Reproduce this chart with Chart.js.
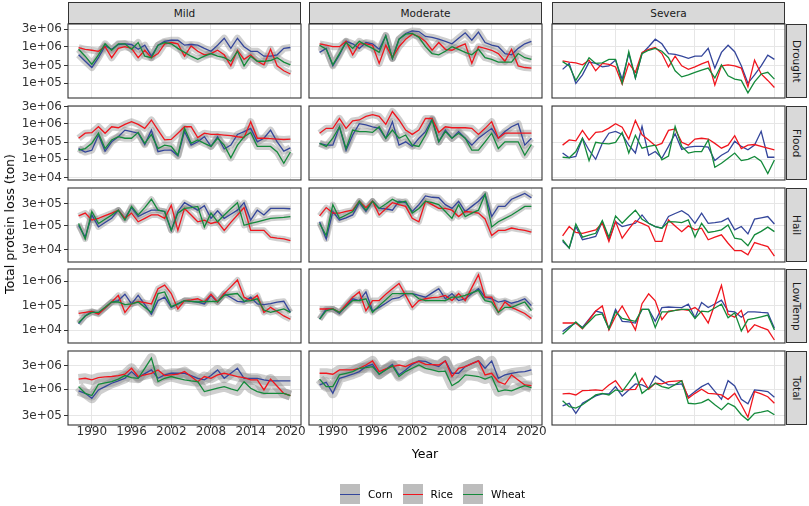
<!DOCTYPE html>
<html>
<head>
<meta charset="utf-8">
<script src="https://cdn.jsdelivr.net/npm/chart.js@4.4.1/dist/chart.umd.min.js"></script>
<style>
  body { margin: 0; width: 809px; height: 506px; position: relative; overflow: hidden; background: #fff; font-family: "DejaVu Sans", sans-serif; }
  canvas { position: absolute; }
  .strip { position: absolute; background: #d9d9d9; border: 1px solid #333; box-sizing: border-box; display: flex; align-items: center; justify-content: center; color: #1a1a1a; font-size: 10.5px; }
  .strip.side span { writing-mode: vertical-rl; }
  .lbl { position: absolute; color: #000; font-size: 12.5px; }
  .legend { position: absolute; top: 484px; left: 340px; display: flex; align-items: center; font-size: 10.5px; color: #000; }
  .key { width: 20px; height: 20px; background: #bdbdbd; position: relative; margin-right: 8px; }
  .key i { position: absolute; left: 0; right: 0; top: 9.5px; height: 1.4px; }
  .item { display: flex; align-items: center; margin-right: 10px; }
</style>
</head>
<body>
<script>
const years = [1988,1989,1990,1991,1992,1993,1994,1995,1996,1997,1998,1999,2000,2001,2002,2003,2004,
  2005,2006,2007,2008,2009,2010,2011,2012,2013,2014,2015,2016,2017,2018,2019,2020];
const yearTicks = [1990, 1996, 2002, 2008, 2014, 2020];
const crops = ['Corn', 'Rice', 'Wheat'];
const severities = ['Mild', 'Moderate', 'Severa'];
const hazards = ['Drought', 'Flood', 'Hail', 'LowTemp', 'Total'];

const droughtTicks = [1e5, 3e5, 1e6, 3e6];
const floodTicks = [3e4, 1e5, 3e5, 1e6, 3e6];
const hailTicks = [3e4, 1e5, 3e5];
const lowTempTicks = [1e4, 1e5, 1e6];
const totalTicks = [3e5, 1e6, 3e6];

// Drought
const droughtMildCorn = [6.0e5,4.0e5,2.7e5,5.0e5,1.05e6,8.5e5,1.15e6,1.2e6,1.15e6,8.5e5,1.1e6,5.5e5,1.1e6,1.4e6,1.5e6,1.5e6,1.1e6,1.15e6,1.1e6,9.0e5,7.5e5,1.1e6,1.7e6,9.0e5,1.7e6,1.0e6,7.5e5,7.5e5,5.5e5,5.5e5,6.0e5,9.0e5,9.5e5];
const droughtMildRice = [9.5e5,8.5e5,8.0e5,7.5e5,1.0e6,5.0e5,9.0e5,1.0e6,9.0e5,5.0e5,8.0e5,5.0e5,6.5e5,1.2e6,1.3e6,1.2e6,5.5e5,1.05e6,7.5e5,6.0e5,6.5e5,8.0e5,6.0e5,3.0e5,8.0e5,4.5e5,6.0e5,4.0e5,3.2e5,8.5e5,3.0e5,2.2e5,1.8e5];
const droughtMildWheat = [8.5e5,5.5e5,3.3e5,6.0e5,1.2e6,8.0e5,1.2e6,1.2e6,8.5e5,1.3e6,5.5e5,5.0e5,1.1e6,1.3e6,1.2e6,9.0e5,7.0e5,5.5e5,4.5e5,5.5e5,6.5e5,5.5e5,5.0e5,4.0e5,7.5e5,3.0e5,5.5e5,4.0e5,4.0e5,4.2e5,5.0e5,3.8e5,3.2e5];
const droughtModCorn = [7.0e5,9.0e5,3.0e5,6.0e5,1.4e6,1.2e6,9.0e5,1.3e6,1.2e6,8.5e5,2.0e6,4.8e5,1.6e6,2.3e6,2.7e6,2.6e6,1.9e6,1.8e6,1.6e6,1.4e6,1.2e6,1.7e6,2.4e6,1.5e6,2.5e6,1.3e6,1.1e6,1.0e6,6.5e5,6.0e5,9.0e5,1.2e6,1.4e6];
const droughtModRice = [1.2e6,1.1e6,1.0e6,1.0e6,1.4e6,6.0e5,1.2e6,1.2e6,1.1e6,3.5e5,1.1e6,5.0e5,1.0e6,1.6e6,2.2e6,1.9e6,1.4e6,8.0e5,1.3e6,8.5e5,8.0e5,1.0e6,1.2e6,3.5e5,1.0e6,9.0e5,8.0e5,6.5e5,4.0e5,8.5e5,3.0e5,2.7e5,2.6e5];
const droughtModWheat = [1.1e6,8.5e5,3.2e5,6.5e5,1.3e6,9.0e5,1.4e6,1.1e6,9.0e5,7.0e5,2.0e6,4.8e5,1.6e6,2.2e6,2.3e6,1.8e6,1.0e6,6.5e5,6.0e5,7.5e5,1.0e6,8.5e5,7.0e5,6.0e5,8.5e5,5.0e5,4.5e5,3.8e5,3.8e5,3.8e5,6.5e5,5.0e5,4.5e5];
const droughtSevCorn = [2.4e5,3.5e5,1.0e5,1.7e5,3.8e5,3.5e5,2.8e5,3.0e5,4.3e5,1.3e5,6.5e5,1.4e5,6.5e5,1.0e6,1.6e6,1.2e6,6.5e5,6.2e5,5.5e5,4.8e5,5.5e5,5.5e5,9.0e5,2.6e5,7.0e5,1.1e6,7.3e5,3.0e5,1.0e5,1.7e5,3.0e5,5.9e5,4.5e5];
const droughtSevRice = [4.1e5,3.8e5,3.6e5,3.2e5,4.3e5,2.2e5,3.5e5,3.3e5,2.8e5,9.5e4,3.5e5,2.0e5,7.0e5,8.5e5,9.5e5,6.5e5,2.8e5,5.5e5,3.0e5,2.4e5,2.8e5,3.4e5,4.0e5,9.0e4,3.0e5,3.2e5,3.0e5,2.6e5,8.0e4,4.3e5,1.8e5,1.2e5,7.7e4];
const droughtSevWheat = [3.9e5,3.0e5,1.2e5,2.4e5,5.0e5,3.5e5,3.6e5,4.5e5,4.5e5,1.0e5,7.3e5,1.4e5,6.5e5,8.0e5,9.0e5,7.5e5,5.0e5,2.2e5,1.5e5,1.7e5,2.0e5,2.3e5,2.6e5,1.4e5,3.2e5,1.6e5,1.3e5,1.2e5,5.5e4,1.1e5,1.8e5,2.0e5,1.3e5];

// Flood
const floodMildCorn = [2.0e5,1.6e5,1.8e5,4.8e5,1.7e5,3.1e5,4.3e5,6.6e5,6.0e5,5.4e5,2.6e5,6.6e5,1.64e5,1.8e5,1.8e5,1.25e5,6.0e5,2.5e5,3.1e5,4.3e5,2.3e5,4.3e5,1.95e5,2.5e5,5.0e5,6.0e5,7.4e5,3.1e5,3.9e5,6.6e5,3.1e5,1.7e5,2.1e5];
const floodMildRice = [3.9e5,5.4e5,5.6e5,8.2e5,5.4e5,8.2e5,7.7e5,9.6e5,1.14e6,9.6e5,7.4e5,1.27e6,6.6e5,3.5e5,3.6e5,5.4e5,8.2e5,8.2e5,4.1e5,5.4e5,5.0e5,5.0e5,4.8e5,4.6e5,4.3e5,4.1e5,1.14e6,3.9e5,3.9e5,3.8e5,3.7e5,3.6e5,3.7e5];
const floodMildWheat = [1.8e5,2.0e5,2.8e5,5.4e5,2.0e5,3.5e5,4.3e5,3.9e5,3.9e5,5.7e5,2.8e5,5.0e5,2.0e5,2.5e5,2.3e5,1.3e5,7.4e5,2.8e5,3.5e5,2.8e5,2.3e5,3.9e5,2.5e5,1.1e5,2.5e5,4.3e5,5.7e5,2.3e5,2.3e5,2.3e5,1.6e5,7.7e4,1.6e5];
const floodModCorn = [2.8e5,2.5e5,2.5e5,8.2e5,1.8e5,4.8e5,1.0e6,9.2e5,8.2e5,7.4e5,3.9e5,1.14e6,2.5e5,3.1e5,2.3e5,3.9e5,6.0e5,1.35e6,3.1e5,6.6e5,3.9e5,6.0e5,3.9e5,2.5e5,3.9e5,5.4e5,7.4e5,3.9e5,6.0e5,8.2e5,1.0e6,2.5e5,3.9e5];
const floodModRice = [5.4e5,7.4e5,7.4e5,1.4e6,7.4e5,1.2e6,1.27e6,1.6e6,1.8e6,1.6e6,9.6e5,2.2e6,1.27e6,6.6e5,5.0e5,6.6e5,1.4e6,1.4e6,5.7e5,8.2e5,7.7e5,7.7e5,7.7e5,7.4e5,5.0e5,7.4e5,1.14e6,3.9e5,5.4e5,5.4e5,5.4e5,5.4e5,5.4e5];
const floodModWheat = [2.8e5,2.3e5,3.9e5,8.2e5,2.0e5,6.6e5,6.0e5,6.0e5,5.7e5,8.2e5,3.9e5,6.6e5,3.9e5,4.8e5,2.5e5,2.3e5,4.8e5,1.27e6,3.1e5,6.0e5,3.9e5,5.4e5,3.9e5,1.8e5,1.8e5,3.1e5,5.4e5,2.0e5,3.1e5,3.1e5,3.1e5,1.3e5,2.6e5];
const floodSevCorn = [1.5e5,1.1e5,1.2e5,3.9e5,1.8e5,1.0e5,2.8e5,5.4e5,6.1e5,5.0e5,2.5e5,1.5e5,8.4e5,1.3e5,1.65e5,1.07e5,2.3e5,5.2e5,1.9e5,2.2e5,2.3e5,2.3e5,2.2e5,9.2e4,1.3e5,1.65e5,3.2e5,2.3e5,1.84e5,2.5e5,6.1e5,1.14e5,1.14e5];
const floodSevRice = [2.5e5,3.5e5,3.3e5,6.5e5,3.5e5,5.7e5,6.0e5,7.5e5,1.0e6,8.0e5,3.7e5,1.24e6,4.9e5,3.5e5,2.4e5,2.8e5,6.5e5,7.1e5,3.0e5,2.5e5,3.7e5,3.9e5,3.7e5,2.8e5,2.05e5,2.5e5,4.6e5,2.0e5,2.5e5,2.6e5,2.3e5,2.05e5,1.84e5];
const floodSevWheat = [1.14e5,1.1e5,1.65e5,3.9e5,9.2e4,3.0e5,2.8e5,2.7e5,3.0e5,5.7e5,1.5e5,4.7e5,2.05e5,2.3e5,2.5e5,9.6e4,1.24e5,8.4e5,2.3e5,1.5e5,1.65e5,1.65e5,3.5e5,6.0e4,7.7e4,1.07e5,1.5e5,9.2e4,1.0e5,1.2e5,8.8e4,4.0e4,9.6e4];

// Hail
const hailMildCorn = [1.03e5,5.7e4,1.73e5,9.5e4,1.19e5,1.46e5,2.2e5,1.46e5,2.5e5,1.6e5,1.9e5,2.2e5,2.2e5,2.06e5,8.0e4,2.06e5,3.2e5,2.66e5,2.2e5,2.75e5,1.46e5,2.13e5,1.46e5,1.8e5,2.2e5,3.2e5,1.34e5,2.2e5,1.73e5,2.4e5,2.4e5,2.4e5,2.36e5];
const hailMildRice = [1.65e5,1.9e5,1.34e5,1.46e5,1.67e5,1.9e5,2.2e5,1.46e5,1.9e5,1.23e5,1.46e5,1.73e5,1.73e5,1.46e5,2.8e5,8.0e4,2.4e5,1.73e5,1.23e5,1.34e5,1.13e5,1.23e5,8.0e4,1.19e5,1.73e5,2.5e5,8.0e4,8.0e4,8.0e4,5.7e4,5.4e4,5.2e4,4.8e4];
const hailMildWheat = [1.13e5,5.2e4,2.06e5,1.13e5,1.4e5,1.73e5,2.2e5,1.34e5,2.66e5,1.73e5,2.5e5,3.8e5,2.2e5,2.06e5,8.0e4,1.9e5,2.4e5,2.5e5,2.66e5,9.5e4,1.9e5,1.23e5,1.73e5,2.36e5,3.2e5,1.03e5,1.13e5,1.23e5,1.34e5,1.46e5,1.5e5,1.53e5,1.6e5];
const hailModCorn = [1.23e5,5.2e4,2.06e5,1.34e5,1.5e5,1.73e5,3.2e5,2.06e5,3.45e5,2.4e5,2.36e5,2.2e5,3.45e5,3.2e5,2.06e5,2.9e5,4.5e5,4.2e5,4.1e5,2.9e5,2.4e5,3.45e5,2.06e5,2.66e5,3.45e5,4.9e5,1.6e5,2.66e5,2.66e5,3.8e5,4.4e5,5.1e5,4.1e5];
const hailModRice = [1.65e5,2.5e5,1.9e5,1.9e5,2.06e5,2.2e5,3.45e5,2.5e5,3.45e5,1.73e5,2.36e5,3.2e5,2.9e5,2.66e5,1.46e5,1.23e5,3.45e5,2.9e5,2.4e5,2.4e5,2.2e5,1.6e5,2.06e5,2.0e5,1.9e5,1.42e5,6.2e4,8.0e4,8.0e4,9.0e4,8.4e4,8.0e4,7.3e4];
const hailModWheat = [1.13e5,6.2e4,2.9e5,1.46e5,1.73e5,2.06e5,3.45e5,2.2e5,3.45e5,2.4e5,3.0e5,3.8e5,3.2e5,3.45e5,1.9e5,2.4e5,3.45e5,3.2e5,2.9e5,2.06e5,1.46e5,2.9e5,1.6e5,1.9e5,2.2e5,4.9e5,9.5e4,1.23e5,1.46e5,1.73e5,2.13e5,2.66e5,2.66e5];
const hailSevCorn = [4.6e4,3.3e4,9.7e4,5.0e4,5.4e4,5.9e4,1.24e5,5.0e4,1.24e5,9.7e4,1.05e5,1.14e5,1.73e5,1.14e5,9.7e4,8.9e4,1.6e5,1.86e5,2.15e5,1.73e5,1.14e5,1.9e5,1.14e5,1.18e5,1.24e5,1.47e5,8.2e4,9.7e4,6.7e4,1.4e5,1.5e5,1.6e5,1.1e5];
const hailSevRice = [6.05e4,9.7e4,7.2e4,6.9e4,7.5e4,8.2e4,1.14e5,4.6e4,1.24e5,5.4e4,8.5e4,1.3e5,1.14e5,9.7e4,4.6e4,4.6e4,1.35e5,1.0e5,7.5e4,1.0e5,8.2e4,8.9e4,5.0e4,5.7e4,6.4e4,4.2e4,2.9e4,2.9e4,2.35e4,4.35e4,3.9e4,3.55e4,2.2e4];
const hailSevWheat = [5.0e4,3.3e4,1.1e5,5.7e4,6.3e4,6.9e4,1.3e5,5.7e4,1.65e5,1.14e5,1.6e5,2.2e5,1.4e5,1.14e5,9.7e4,8.9e4,1.24e5,1.22e5,1.18e5,1.35e5,5.7e4,1.14e5,7.2e4,7.6e4,8.2e4,1.05e5,5.4e4,5.1e4,3.7e4,6.4e4,7.6e4,9.4e4,7.5e4];

// LowTemp
const lowTempMildCorn = [1.8e4,3.8e4,5.8e4,4.8e4,8.0e4,1.4e5,1.6e5,2.9e5,1.17e5,2.6e5,1.1e5,4.5e4,1.6e5,2.2e5,8.5e4,1.17e5,1.6e5,1.5e5,1.4e5,1.17e5,2.6e5,1.4e5,3.1e5,2.15e5,1.5e5,1.4e5,2.2e5,1.17e5,1.1e5,1.2e5,1.4e5,1.5e5,5.3e4];
const lowTempMildRice = [4.8e4,5.3e4,5.8e4,4.5e4,8.0e4,1.4e5,2.6e5,5.3e4,1.17e5,1.47e5,1.33e5,1.17e5,4.9e5,6.8e5,3.1e5,7.3e4,1.6e5,1.72e5,1.9e5,1.4e5,2.9e5,1.4e5,3.1e5,5.8e5,1.1e6,2.2e5,1.6e5,2.6e5,5.3e4,8.5e4,5.8e4,3.8e4,2.8e4];
const lowTempMildWheat = [2.0e4,3.8e4,5.3e4,5.3e4,8.5e4,1.4e5,1.4e5,1.1e5,1.17e5,1.4e5,8.5e4,5.3e4,3.1e5,3.6e5,9.1e4,1.17e5,1.6e5,1.5e5,1.4e5,1.47e5,1.5e5,1.47e5,2.6e5,2.9e5,3.1e5,1.5e5,1.6e5,1.9e5,6.6e4,5.3e4,6.2e4,7.3e4,5.3e4];
const lowTempModCorn = [2.8e4,7.3e4,7.3e4,4.8e4,9.7e4,1.9e5,1.6e5,3.6e5,6.2e4,8.5e4,1.25e5,1.9e5,2.1e5,3.1e5,3.1e5,2.6e5,2.2e5,3.3e5,4.9e5,1.9e5,3.1e5,1.6e5,1.9e5,3.1e5,4.9e5,2.2e5,1.9e5,1.4e5,1.6e5,1.25e5,1.5e5,1.9e5,1.0e5];
const lowTempModRice = [7.3e4,7.3e4,7.3e4,5.3e4,1.1e5,2.2e5,3.6e5,6.2e4,1.6e5,1.6e5,2.9e5,4.9e5,8.0e5,2.6e5,8.5e4,1.6e5,1.9e5,2.1e5,2.2e5,2.6e5,1.6e5,3.1e5,1.6e5,5.4e5,1.8e6,2.2e5,2.2e5,5.3e4,1.4e5,8.5e4,6.4e4,4.8e4,3.0e4];
const lowTempModWheat = [2.8e4,6.2e4,7.3e4,5.3e4,9.1e4,1.6e5,1.6e5,1.9e5,5.3e4,1.0e5,1.72e5,3.1e5,3.1e5,3.1e5,3.1e5,1.9e5,1.6e5,1.6e5,1.6e5,1.6e5,2.2e5,2.2e5,2.6e5,3.3e5,4.2e5,1.6e5,1.4e5,5.3e4,8.5e4,8.5e4,1.1e5,1.4e5,6.2e4];
const lowTempSevCorn = [8.8e3,1.4e4,1.96e4,1.3e4,2.8e4,6.0e4,5.1e4,1.14e4,7.0e4,2.3e4,2.2e4,1.96e4,7.0e4,7.0e4,2.3e4,8.3e4,8.8e4,8.5e4,8.3e4,1.14e5,3.2e4,1.33e5,8.3e4,1.16e5,1.67e5,6.0e4,5.6e4,3.4e4,5.6e4,5.6e4,5.3e4,5.1e4,1.2e4];
const lowTempSevRice = [1.96e4,1.96e4,1.96e4,1.14e4,2.6e4,6.0e4,9.7e4,1.03e4,3.7e4,9.7e4,3.2e4,1.03e4,1.2e5,3.0e5,1.56e5,2.7e4,6.0e4,6.4e4,7.0e4,6.4e4,8.3e4,5.1e4,1.96e4,1.14e5,6.6e5,4.4e4,3.4e4,6.4e4,8.3e3,1.67e4,1.3e4,1.03e4,4.0e3];
const lowTempSevWheat = [6.8e3,1.2e4,2.2e4,1.2e4,2.2e4,4.1e4,4.6e4,1.14e4,5.6e4,3.0e4,2.6e4,2.3e4,7.0e4,7.0e4,1.3e4,5.6e4,5.6e4,6.4e4,7.0e4,7.0e4,3.0e4,6.0e4,5.6e4,8.0e4,1.14e5,3.2e4,5.1e4,9.4e3,2.7e4,3.0e4,3.5e4,4.1e4,1.03e4];

// Total
const totalMildCorn = [9.3e5,8.3e5,6.6e5,9.7e5,1.13e6,1.32e6,1.47e6,1.66e6,2.26e6,1.71e6,2.06e6,2.44e6,1.66e6,1.94e6,2.09e6,2.09e6,2.09e6,1.88e6,1.66e6,1.54e6,1.88e6,2.44e6,1.66e6,2.09e6,2.63e6,1.66e6,1.66e6,1.66e6,1.54e6,1.47e6,1.47e6,1.47e6,1.47e6];
const totalMildRice = [1.6e6,1.66e6,1.54e6,1.71e6,1.77e6,1.8e6,1.88e6,2.0e6,2.63e6,1.8e6,1.94e6,2.09e6,2.44e6,1.88e6,1.94e6,2.0e6,2.26e6,1.8e6,1.42e6,1.8e6,1.66e6,1.94e6,2.09e6,1.94e6,1.8e6,1.71e6,1.54e6,1.54e6,9.7e5,1.6e6,1.15e6,8.3e5,7.5e5];
const totalMildWheat = [1.13e6,8.3e5,7.5e5,1.26e6,1.34e6,1.42e6,1.6e6,1.88e6,1.71e6,1.66e6,2.63e6,4.2e6,1.42e6,1.66e6,1.8e6,1.66e6,1.54e6,1.47e6,1.42e6,9.0e5,9.7e5,1.05e6,1.13e6,1.02e6,9.3e5,1.42e6,1.05e6,9.0e5,8.3e5,8.3e5,8.3e5,8.3e5,7.5e5];
const totalModCorn = [1.22e6,1.38e6,8.3e5,1.66e6,1.82e6,2.0e6,2.26e6,2.84e6,3.15e6,2.0e6,2.5e6,3.15e6,1.94e6,2.44e6,3.15e6,3.7e6,3.6e6,3.15e6,2.84e6,3.7e6,2.09e6,2.09e6,2.84e6,3.25e6,3.7e6,2.63e6,3.7e6,1.66e6,1.94e6,2.09e6,2.2e6,2.26e6,2.44e6];
const totalModRice = [2.09e6,2.09e6,2.0e6,2.44e6,2.44e6,2.44e6,2.63e6,3.06e6,3.7e6,2.26e6,2.55e6,2.84e6,3.06e6,2.84e6,3.3e6,3.6e6,3.15e6,3.1e6,3.06e6,3.7e6,1.8e6,2.63e6,2.84e6,3.25e6,3.7e6,1.94e6,2.09e6,1.42e6,1.26e6,1.94e6,1.54e6,1.22e6,1.18e6];
const totalModWheat = [1.6e6,1.13e6,1.13e6,1.94e6,2.09e6,2.26e6,2.63e6,2.7e6,2.84e6,2.0e6,2.44e6,2.97e6,1.8e6,2.26e6,2.63e6,3.06e6,2.63e6,2.44e6,2.26e6,2.3e6,1.18e6,1.42e6,1.94e6,1.88e6,1.8e6,1.6e6,1.8e6,9.0e5,9.7e5,9.3e5,1.05e6,1.18e6,1.08e6];
const totalSevCorn = [4.65e5,5.25e5,3.3e5,5.25e5,6.2e5,7.35e5,8.1e5,8.1e5,1.13e6,7.35e5,9.7e5,1.28e6,1.22e6,1.05e6,1.85e6,1.49e6,1.22e6,1.24e6,1.28e6,7.1e5,9.0e5,1.13e6,1.32e6,9.1e5,6.3e5,1.49e6,1.17e6,6.3e5,5.1e5,9.7e5,9.4e5,9.0e5,6.9e5];
const totalSevRice = [8.1e5,8.3e5,7.7e5,9.4e5,9.5e5,9.7e5,9.4e5,1.22e6,1.49e6,9.7e5,9.8e5,1.0e6,1.66e6,1.0e6,1.32e6,1.28e6,1.42e6,1.45e6,1.49e6,6.6e5,8.3e5,1.0e6,8.3e5,8.1e5,7.7e5,6.3e5,8.3e5,4.9e5,2.75e5,9.0e5,8.1e5,7.1e5,5.25e5];
const totalSevWheat = [5.9e5,4.5e5,4.2e5,4.9e5,6.1e5,7.7e5,8.3e5,7.7e5,9.7e5,9.0e5,1.36e6,2.09e6,8.3e5,1.05e6,1.32e6,1.13e6,1.05e6,1.24e6,1.49e6,5.25e5,5.1e5,5.4e5,6.3e5,4.9e5,3.9e5,5.25e5,4.5e5,3.1e5,2.4e5,3.3e5,3.5e5,3.75e5,3.1e5];

const series = {
  Drought: [[droughtMildCorn, droughtMildRice, droughtMildWheat], [droughtModCorn, droughtModRice, droughtModWheat], [droughtSevCorn, droughtSevRice, droughtSevWheat]],
  Flood: [[floodMildCorn, floodMildRice, floodMildWheat], [floodModCorn, floodModRice, floodModWheat], [floodSevCorn, floodSevRice, floodSevWheat]],
  Hail: [[hailMildCorn, hailMildRice, hailMildWheat], [hailModCorn, hailModRice, hailModWheat], [hailSevCorn, hailSevRice, hailSevWheat]],
  LowTemp: [[lowTempMildCorn, lowTempMildRice, lowTempMildWheat], [lowTempModCorn, lowTempModRice, lowTempModWheat], [lowTempSevCorn, lowTempSevRice, lowTempSevWheat]],
  Total: [[totalMildCorn, totalMildRice, totalMildWheat], [totalModCorn, totalModRice, totalModWheat], [totalSevCorn, totalSevRice, totalSevWheat]]
};
const rowTicks = { Drought: droughtTicks, Flood: floodTicks, Hail: hailTicks, LowTemp: lowTempTicks, Total: totalTicks };

// layout / style
const rowRange = { Drought: [3.97e4, 4.17e6], Flood: [2.62e4, 3.14e6], Hail: [1.64e4, 6.68e5], LowTemp: [3.02e3, 3.08e6], Total: [1.93e5, 5.83e6] };
const colors = { Corn: '#34469b', Rice: '#f0161e', Wheat: '#148a3b' };
const bandWidth = { Drought: 7, Flood: 7, Hail: 6, LowTemp: 6, Total: 10 };
const colX = [68, 309, 552], rowY = [24, 106, 188, 269, 351];
const PW = 233, PH = 74, P = 14, AL = 52, AB = 22;
const tickFont = { family: 'DejaVu Sans', size: 12 };

function sci(v) {
  const e = Math.floor(Math.log10(v) + 1e-9);
  const m = Math.round(v / Math.pow(10, e));
  return m + 'e+' + String(e).padStart(2, '0');
}

const panelBorder = {
  id: 'panelBorder',
  afterDraw(chart) {
    const { ctx, chartArea: a } = chart;
    ctx.save();
    ctx.strokeStyle = '#333333';
    ctx.lineWidth = 1.1;
    ctx.strokeRect(a.left, a.top, a.right - a.left, a.bottom - a.top);
    ctx.restore();
  }
};

function addDiv(cls, css, text) {
  const d = document.createElement('div');
  d.className = cls;
  Object.assign(d.style, css);
  if (text !== undefined) {
    const s = document.createElement('span');
    s.textContent = text;
    d.appendChild(s);
  }
  document.body.appendChild(d);
  return d;
}

severities.forEach((sev, c) => {
  addDiv('strip', { left: colX[c] + 'px', top: '2px', width: PW + 'px', height: '22px' }, sev);
});
hazards.forEach((hz, r) => {
  addDiv('strip side', { left: '786px', top: rowY[r] + 'px', width: '21px', height: PH + 'px' }, hz);
});

hazards.forEach((hz, r) => {
  severities.forEach((sev, c) => {
    const left = c === 0 ? AL : 0;
    const bottom = (r === 4 && c < 2) ? AB : 0;
    const w = PW + left + 2 * P, h = PH + bottom + 2 * P;
    const cv = document.createElement('canvas');
    cv.width = w; cv.height = h;
    cv.style.left = (colX[c] - left - P) + 'px';
    cv.style.top = (rowY[r] - P) + 'px';
    cv.style.width = w + 'px'; cv.style.height = h + 'px';
    document.body.appendChild(cv);

    const datasets = [];
    crops.forEach((crop, k) => {
      const pts = years.map((x, i) => ({ x: x, y: series[hz][c][k][i] }));
      datasets.push({ label: crop, data: pts, borderColor: colors[crop], borderWidth: 1.3, order: 3 - k });
      if (c < 2) {
        datasets.push({ label: crop + ' band', data: pts, borderColor: 'rgba(135,135,135,0.4)',
          borderWidth: bandWidth[hz], borderJoinStyle: 'round', order: 10 });
      }
    });

    new Chart(cv, {
      type: 'line',
      data: { datasets: datasets },
      options: {
        responsive: false,
        animation: false,
        layout: { padding: P },
        elements: { point: { radius: 0 }, line: { tension: 0 } },
        plugins: { legend: { display: false }, tooltip: { enabled: false } },
        scales: {
          x: {
            type: 'linear', min: 1986.4, max: 2021.6,
            afterBuildTicks: s => { s.ticks = yearTicks.map(v => ({ value: v })); },
            afterFit: s => { s.height = bottom; },
            grid: { color: '#e6e6e6', lineWidth: 1, drawTicks: bottom > 0, tickLength: 3, tickColor: '#333', tickWidth: 1 },
            border: { display: false },
            ticks: { display: bottom > 0, padding: -3, color: '#333', font: tickFont, maxRotation: 0, autoSkip: false,
              callback: v => String(v) }
          },
          y: {
            type: 'logarithmic', min: rowRange[hz][0], max: rowRange[hz][1],
            afterBuildTicks: s => { s.ticks = rowTicks[hz].map(v => ({ value: v })); },
            afterFit: s => { s.width = left; },
            grid: { color: '#e6e6e6', lineWidth: 1, drawTicks: left > 0, tickLength: 4, tickColor: '#333', tickWidth: 1 },
            border: { display: false },
            ticks: { display: left > 0, padding: 2, color: '#333', font: tickFont, autoSkip: false,
              callback: v => sci(v) }
          }
        }
      },
      plugins: [panelBorder]
    });
  });
});

// axis titles
addDiv('lbl', { left: '2px', top: '224px', transform: 'translateY(-50%) rotate(180deg)', writingMode: 'vertical-rl' }, 'Total protein loss (ton)');
addDiv('lbl', { left: '425px', top: '446px', transform: 'translateX(-50%)' }, 'Year');

// legend
const lg = document.createElement('div');
lg.className = 'legend';
crops.forEach(crop => {
  const it = document.createElement('div');
  it.className = 'item';
  const k = document.createElement('div');
  k.className = 'key';
  const ln = document.createElement('i');
  ln.style.background = colors[crop];
  k.appendChild(ln);
  const t = document.createElement('span');
  t.textContent = crop;
  it.appendChild(k); it.appendChild(t);
  lg.appendChild(it);
});
document.body.appendChild(lg);
</script>
</body>
</html>
